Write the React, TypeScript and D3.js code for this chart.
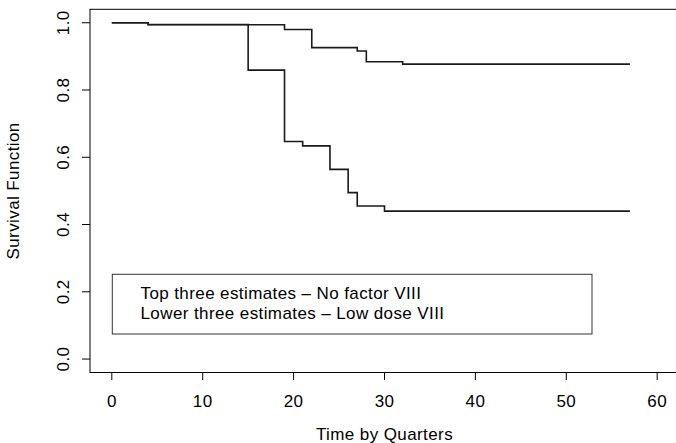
import React, { useEffect, useRef } from 'react';
import * as d3 from 'd3';

// survival estimates (time in quarters)
const noFactorTimes = [0, 4, 19, 22, 27, 28, 32, 57];
const noFactorSurv = [1.0, 0.994, 0.98, 0.926, 0.916, 0.884, 0.877, 0.877];
const lowDoseTimes = [0, 4, 15, 19, 21, 24, 26, 27, 30, 57];
const lowDoseSurv = [1.0, 0.995, 0.859, 0.647, 0.634, 0.564, 0.495, 0.455, 0.44, 0.44];

const xTicks = [0, 10, 20, 30, 40, 50, 60];
const yTicks = [0, 0.2, 0.4, 0.6, 0.8, 1.0];
const legendLines = [
  'Top three estimates \u2013 No factor VIII',
  'Lower three estimates \u2013 Low dose VIII',
];

const W = 676;
const H = 443;
const font = '"Liberation Sans", Arial, Helvetica, sans-serif';
const fontSize = 17;
const spacing = '0.4px';

const box = { left: 90, right: 679, top: 9.3, bottom: 372.5 };

function label(sel: any) {
  return sel
    .style('font-family', font)
    .style('font-size', fontSize + 'px')
    .style('letter-spacing', spacing);
}

function drawChart(node: SVGSVGElement) {
  const svg = d3.select(node);
  svg.selectAll('*').remove();

  // R-style 4% padding around 0..60 and 0..1
  const x = d3.scaleLinear().domain([-2.4, 62.4]).range([box.left, box.right]);
  const y = d3.scaleLinear().domain([-0.04, 1.04]).range([box.bottom, box.top]);

  svg
    .append('rect')
    .attr('x', box.left)
    .attr('y', box.top)
    .attr('width', box.right - box.left)
    .attr('height', box.bottom - box.top)
    .attr('fill', 'none')
    .attr('stroke', '#000')
    .attr('stroke-width', 1);

  // x axis
  const gx = svg.append('g');
  gx.selectAll('.xt')
    .data(xTicks)
    .enter()
    .append('line')
    .attr('x1', d => x(d))
    .attr('x2', d => x(d))
    .attr('y1', box.bottom)
    .attr('y2', box.bottom + 7.5)
    .attr('stroke', '#000');
  label(
    gx.selectAll('.xl')
      .data(xTicks)
      .enter()
      .append('text')
      .attr('x', d => x(d))
      .attr('y', 406.5)
      .attr('text-anchor', 'middle')
  ).text(d => String(d));

  // y axis
  const gy = svg.append('g');
  gy.selectAll('.yt')
    .data(yTicks)
    .enter()
    .append('line')
    .attr('x1', box.left)
    .attr('x2', box.left - 8)
    .attr('y1', d => y(d))
    .attr('y2', d => y(d))
    .attr('stroke', '#000');
  label(
    gy.selectAll('.yl')
      .data(yTicks)
      .enter()
      .append('text')
      .attr('transform', d => `translate(68.5,${y(d)}) rotate(-90)`)
      .attr('text-anchor', 'middle')
  ).text(d => d3.format('.1f')(d));

  // axis titles
  label(
    svg
      .append('text')
      .attr('x', (x(0) + x(60)) / 2)
      .attr('y', 439.5)
      .attr('text-anchor', 'middle')
  ).text('Time by Quarters');
  label(
    svg
      .append('text')
      .attr('transform', `translate(18.5,${(y(0) + y(1)) / 2}) rotate(-90)`)
      .attr('text-anchor', 'middle')
  ).text('Survival Function');

  // step curves
  const line = d3
    .line<[number, number]>()
    .x(d => x(d[0]))
    .y(d => y(d[1]))
    .curve(d3.curveStepAfter);

  const series = [
    noFactorTimes.map((t, i) => [t, noFactorSurv[i]] as [number, number]),
    lowDoseTimes.map((t, i) => [t, lowDoseSurv[i]] as [number, number]),
  ];
  svg
    .selectAll('.curve')
    .data(series)
    .enter()
    .append('path')
    .attr('d', d => line(d))
    .attr('fill', 'none')
    .attr('stroke', '#1a1a1a')
    .attr('stroke-width', 1.6);

  // legend
  svg
    .append('rect')
    .attr('x', 112.3)
    .attr('y', 274.3)
    .attr('width', 592 - 112.3)
    .attr('height', 334 - 274.3)
    .attr('fill', 'none')
    .attr('stroke', '#333')
    .attr('stroke-width', 1);
  label(
    svg
      .selectAll('.leg')
      .data(legendLines)
      .enter()
      .append('text')
      .attr('x', 140.5)
      .attr('y', (d, i) => 298.5 + i * 20)
  ).text(d => d);
}

export default function App() {
  const ref = useRef<SVGSVGElement>(null);
  useEffect(() => {
    if (ref.current) drawChart(ref.current);
  }, []);
  return (
    <svg
      ref={ref}
      width={W}
      height={H}
      style={{ position: 'absolute', left: 0, top: 0, background: '#fff' }}
    />
  );
}
